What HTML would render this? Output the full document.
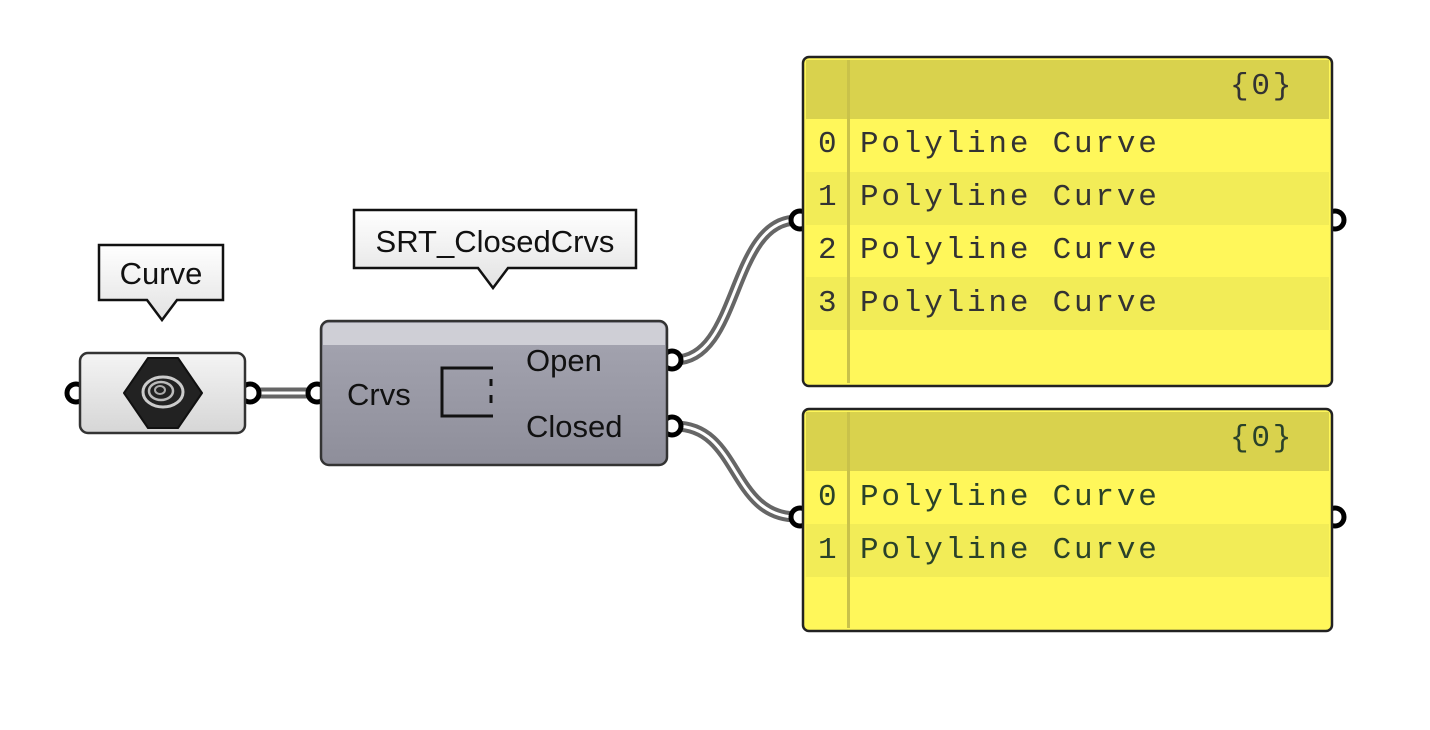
<!DOCTYPE html>
<html><head><style>body{margin:0;background:#fff}svg{display:block}</style></head><body>
<svg width="1430" height="730" xmlns="http://www.w3.org/2000/svg">
<defs>
<linearGradient id="gc" x1="0" y1="0" x2="0" y2="1"><stop offset="0" stop-color="#f4f4f4"/><stop offset="1" stop-color="#d6d6d6"/></linearGradient>
<linearGradient id="gs" x1="0" y1="0" x2="0" y2="1"><stop offset="0" stop-color="#a6a6b2"/><stop offset="1" stop-color="#8e8e9a"/></linearGradient>
<linearGradient id="gt" x1="0" y1="0" x2="0" y2="1"><stop offset="0" stop-color="#ffffff"/><stop offset="1" stop-color="#e2e2e2"/></linearGradient>
</defs>
<g fill="none" stroke-linecap="round">
<path d="M253 393 L314 393" stroke="#666" stroke-width="11"/>
<path d="M253 393 L314 393" stroke="#fff" stroke-width="3"/>
<path d="M675 360 C740 360 730 220 797 220" stroke="#666" stroke-width="11"/>
<path d="M675 360 C740 360 730 220 797 220" stroke="#fff" stroke-width="3"/>
<path d="M675 426 C740 426 730 517 797 517" stroke="#666" stroke-width="11"/>
<path d="M675 426 C740 426 730 517 797 517" stroke="#fff" stroke-width="3"/>
</g>
<path d="M99 245 H223 V300 H177 L162 320 L147 300 H99 Z" fill="url(#gt)" stroke="#111" stroke-width="2.5"/>
<text x="161" y="284" font-family="Liberation Sans, sans-serif" font-size="31" text-anchor="middle" fill="#111">Curve</text>
<path d="M354 210 H636 V268 H508 L493 288 L478 268 H354 Z" fill="url(#gt)" stroke="#111" stroke-width="2.5"/>
<text x="495" y="252" font-family="Liberation Sans, sans-serif" font-size="31" text-anchor="middle" fill="#111">SRT_ClosedCrvs</text>
<g fill="#fff" stroke="#000" stroke-width="5">
<circle cx="76" cy="393" r="9"/><circle cx="250" cy="393" r="9"/>
<circle cx="317" cy="393" r="9"/><circle cx="672" cy="360" r="9"/><circle cx="672" cy="426" r="9"/>
<circle cx="800" cy="220" r="9"/><circle cx="1335" cy="220" r="9"/>
<circle cx="800" cy="517" r="9"/><circle cx="1335" cy="517" r="9"/>
</g>
<rect x="80" y="353" width="165" height="80" rx="8" fill="url(#gc)" stroke="#333" stroke-width="2.5"/>
<polygon points="148,358 178,358 202,393 178,428 148,428 124,393" fill="#222" stroke="#111" stroke-width="2" stroke-linejoin="round"/>
<ellipse cx="163" cy="392" rx="20" ry="15" fill="none" stroke="#ccc" stroke-width="3"/>
<ellipse cx="161" cy="391" rx="12" ry="9" fill="none" stroke="#bbb" stroke-width="2.5"/>
<ellipse cx="160" cy="390" rx="5" ry="4" fill="none" stroke="#aaa" stroke-width="2"/>
<rect x="321" y="321" width="346" height="144" rx="8" fill="url(#gs)" stroke="#333" stroke-width="2.5"/>
<path d="M323 345 V329 Q323 323 329 323 H659 Q665 323 665 329 V345 Z" fill="#cfcfd6"/>
<text x="347" y="405" font-family="Liberation Sans, sans-serif" font-size="31" fill="#111">Crvs</text>
<text x="526" y="371" font-family="Liberation Sans, sans-serif" font-size="31" fill="#111">Open</text>
<text x="526" y="437" font-family="Liberation Sans, sans-serif" font-size="31" fill="#111">Closed</text>
<path d="M493 368 H442 V416 H493" fill="none" stroke="#111" stroke-width="3"/>
<path d="M491 379 V386 M491 395 V403" stroke="#111" stroke-width="3"/>
<rect x="803" y="57" width="529" height="329" rx="6" fill="#fff75a" stroke="#222" stroke-width="2.5"/>
<rect x="806" y="60" width="523" height="59" fill="#d9d24d"/>
<rect x="806" y="172" width="523" height="53" fill="#f2ec57"/>
<rect x="806" y="277" width="523" height="53" fill="#f2ec57"/>
<rect x="847" y="60" width="3" height="323" fill="#c9c24a"/>
<g font-family="Liberation Mono, monospace" font-size="31" fill="#333" letter-spacing="2.8">
<text x="1230" y="94">{0}</text>
<text x="818" y="152">0</text><text x="860" y="152">Polyline Curve</text>
<text x="818" y="205">1</text><text x="860" y="205">Polyline Curve</text>
<text x="818" y="258">2</text><text x="860" y="258">Polyline Curve</text>
<text x="818" y="311">3</text><text x="860" y="311">Polyline Curve</text>
</g>
<rect x="803" y="409" width="529" height="222" rx="6" fill="#fff75a" stroke="#222" stroke-width="2.5"/>
<rect x="806" y="412" width="523" height="59" fill="#d9d24d"/>
<rect x="806" y="524" width="523" height="53" fill="#f2ec57"/>
<rect x="847" y="412" width="3" height="216" fill="#c9c24a"/>
<g font-family="Liberation Mono, monospace" font-size="31" fill="#2a422a" letter-spacing="2.8">
<text x="1230" y="446">{0}</text>
<text x="818" y="505">0</text><text x="860" y="505">Polyline Curve</text>
<text x="818" y="558">1</text><text x="860" y="558">Polyline Curve</text>
</g>
</svg>
</body></html>
